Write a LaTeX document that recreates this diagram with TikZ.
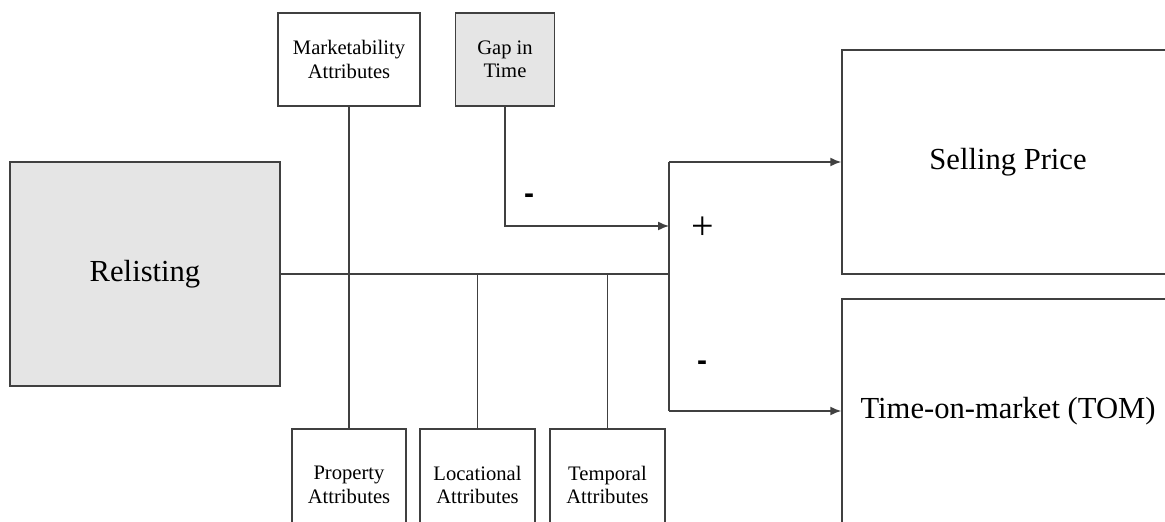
\documentclass[tikz,border=0pt]{standalone}
\usepackage{fontspec}
\setmainfont{Liberation Serif}
\newfontfamily\signfont{Liberation Sans}
\usetikzlibrary{arrows.meta}

\begin{document}
\begin{tikzpicture}[x=0.5pt,y=-0.5pt,
		line width=0.75pt,
		box/.style={draw=black!75,minimum width=#1,inner sep=0pt,align=center},
		smallbox/.style={box=#1,minimum height=46.5pt,font=\fontsize{10.3}{11.7}\selectfont},
		bigbox/.style={box=#1,minimum height=112pt,font=\fontsize{15.3}{18}\selectfont},
		shaded/.style={fill=gray!20},
		link/.style={draw=black!75},
		arrowlink/.style={link,-{Latex[length=5.5pt,width=4.5pt]}},
		sign/.style={font=\signfont\bfseries\fontsize{15}{15}\selectfont}]
	
	\useasboundingbox (0,0) rectangle (1165,522);
	\clip (0,0) rectangle (1165,522);
	
	% main boxes
	\node[bigbox=135pt,shaded] (relist) at (145,274) {Relisting};
	\node[bigbox=166pt] (price) at (1008,162) {Selling Price};
	\node[bigbox=166pt] (tom) at (1008,411) {Time-on-market (TOM)};
	
	% top boxes
	\node[smallbox=71pt] (mkt) at (349,59.5) {Marketability\\Attributes};
	\node[smallbox=49.5pt,shaded] (gap) at (505,59.5) {Gap in\\Time};
	
	% bottom boxes
	\node[smallbox=57pt,minimum height=56pt] (prop) at (349,485) {Property\\Attributes};
	\node[smallbox=57.5pt,minimum height=56pt] (loc) at (477.5,485) {Locational\\Attributes};
	\node[smallbox=57.5pt,minimum height=56pt] (temp) at (607.5,485) {Temporal\\Attributes};
	
	% junction on the right
	\coordinate (jn) at (669,274);
	\coordinate (jtop) at (669,162);
	\coordinate (jbot) at (669,411);
	\coordinate (jgap) at (669,226);
	
	% connectors
	\draw[link] (relist.east) -- (jn);
	\draw[link] (mkt.south) -- (prop.north);
	\draw[link] (loc.north) -- (loc.north |- jn);
	\draw[link] (temp.north) -- (temp.north |- jn);
	\draw[link] (jtop) -- (jbot);
	\draw[arrowlink] (jtop) -- (price.west);
	\draw[arrowlink] (jbot) -- (tom.west);
	\draw[arrowlink] (gap.south) |- (jgap);
	
	% signs
	\node[sign] (gapsign) at (529,199) {-};
	\node[font=\fontsize{20}{20}\selectfont] (plussign) at (703,228) {+};
	\node[sign] (tomsign) at (702,366) {-};
	
\end{tikzpicture}
\end{document}
